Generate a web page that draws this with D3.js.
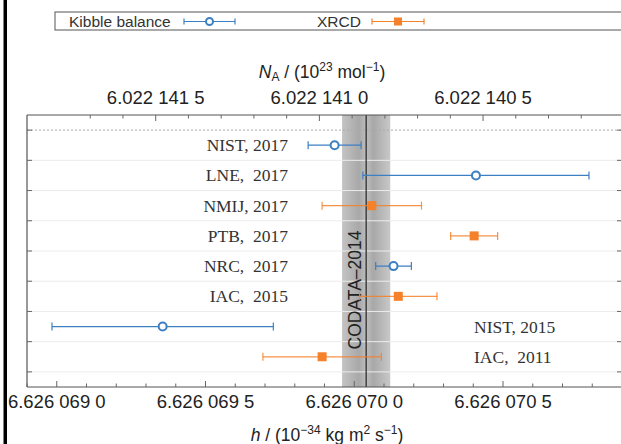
<!DOCTYPE html>
<html><head><meta charset="utf-8">
<script src="https://cdn.jsdelivr.net/npm/d3@7"></script>
<style>
html,body{margin:0;padding:0;background:#fff;}
svg{display:block;}
</style></head>
<body>
<svg id="c" width="621" height="444"></svg>
<script>
// ---- data (h in units of 1e-34 J s) ----
const labels = ["NIST, 2017", "LNE,  2017", "NMIJ, 2017", "PTB,  2017", "NRC,  2017", "IAC,  2015", "NIST, 2015", "IAC,  2011"];
const methods = ["Kibble", "Kibble", "XRCD", "XRCD", "Kibble", "XRCD", "Kibble", "XRCD"];
const hValues = [6.626069934, 6.626070409, 6.626070059, 6.626070403, 6.626070132, 6.626070148, 6.626069356, 6.626069892];
const hUnc    = [0.000000089, 0.000000380, 0.000000167, 0.000000079, 0.000000060, 0.000000130, 0.000000372, 0.000000199];
const codataH = 6.626070040, codataU = 0.000000081;
const molarPlanck = 39.903127110; // N_A*h in (1e23 mol^-1)*(1e-34 J s)
const bottomTicks = [6.6260690, 6.6260695, 6.6260700, 6.6260705];
const topTicks = [6.0221415, 6.0221410, 6.0221405];
const legendNames = ["Kibble balance", "XRCD"];

const blue = "#3d7fc3", orange = "#f5812a";
const svg = d3.select("#c");
const L = 27, R = 622, T = 115, B = 387;
const x = d3.scaleLinear().domain([6.6260689, 6.6260709]).range([L, R]);
const y = d3.scaleLinear().domain([-0.5, 8.5]).range([T, B]);
const fmt = v => { const s = v.toFixed(7); return s.slice(0,5) + " " + s.slice(5,8) + " " + s.slice(8); };

// left black bar
svg.append("rect").attr("x", 3.5).attr("y", 0).attr("width", 3.5).attr("height", 444).attr("fill", "#000");

// CODATA band with gradient
const defs = svg.append("defs");
const g = defs.append("linearGradient").attr("id", "band");
g.append("stop").attr("offset", "0%").attr("stop-color", "#c4c4c4");
g.append("stop").attr("offset", "35%").attr("stop-color", "#a8a8a8");
g.append("stop").attr("offset", "50%").attr("stop-color", "#bdbdbd");
g.append("stop").attr("offset", "65%").attr("stop-color", "#a8a8a8");
g.append("stop").attr("offset", "100%").attr("stop-color", "#c8c8c8");
svg.append("rect").attr("x", x(codataH - codataU)).attr("y", T)
  .attr("width", x(codataH + codataU) - x(codataH - codataU)).attr("height", B - T)
  .attr("fill", "url(#band)");

// row grid lines
const rowTicks = d3.range(0, 9);
svg.append("g").selectAll("line").data(rowTicks).join("line")
  .attr("x1", L).attr("x2", R).attr("y1", d => y(d)).attr("y2", d => y(d))
  .attr("stroke", d => d === 0 ? "#aaa" : "#ececec").attr("stroke-width", 1)
  .attr("stroke-dasharray", d => d === 0 ? "2,2" : null);

// CODATA line
svg.append("line").attr("x1", x(codataH)).attr("x2", x(codataH)).attr("y1", T).attr("y2", B)
  .attr("stroke", "#222").attr("stroke-width", 1.2);
svg.append("text").attr("transform", `translate(${x(codataH) - 11},290) rotate(-90)`)
  .attr("text-anchor", "middle").attr("dominant-baseline", "central")
  .attr("font-family", "Liberation Sans, Arial, sans-serif").attr("font-size", 17.5)
  .attr("fill", "#222").text("CODATA\u20132014");

// frame
const frame = svg.append("g").attr("stroke", "#555").attr("stroke-width", 1.2);
frame.append("line").attr("x1", L).attr("x2", R).attr("y1", T).attr("y2", T);
frame.append("line").attr("x1", L).attr("x2", R).attr("y1", B).attr("y2", B);
frame.append("line").attr("x1", L).attr("x2", L).attr("y1", T).attr("y2", B);
frame.append("line").attr("x1", R).attr("x2", R).attr("y1", T).attr("y2", B);

// y ticks (inward)
const yt = svg.append("g").attr("stroke", "#666").attr("stroke-width", 1);
rowTicks.forEach(d => {
  yt.append("line").attr("x1", L).attr("x2", L + 5).attr("y1", y(d)).attr("y2", y(d));
  yt.append("line").attr("x1", R - 5).attr("x2", R).attr("y1", y(d)).attr("y2", y(d));
});

// bottom axis ticks
const minorB = d3.range(0, 21).map(i => 6.6260689 + i * 1e-7);
const bt = svg.append("g").attr("stroke", "#666").attr("stroke-width", 1);
minorB.forEach(v => {
  const major = bottomTicks.some(t => Math.abs(t - v) < 1e-9);
  bt.append("line").attr("x1", x(v)).attr("x2", x(v)).attr("y1", B).attr("y2", B - (major ? 6 : 3.5));
});
svg.append("g").selectAll("text").data(bottomTicks).join("text")
  .attr("x", d => x(d)).attr("y", 408).attr("text-anchor", "middle")
  .attr("font-family", "Liberation Sans, Arial, sans-serif").attr("font-size", 18.5).attr("fill", "#222")
  .text(d => fmt(d));

// top axis (N_A, inverse)
const xN = n => x(molarPlanck / n);
const minorT = d3.range(0, 16).map(i => 6.0221402 + i * 1e-7);
const tt = svg.append("g").attr("stroke", "#666").attr("stroke-width", 1);
minorT.forEach(n => {
  const px = xN(n);
  if (px < L || px > R) return;
  const major = topTicks.some(t => Math.abs(t - n) < 1e-9);
  tt.append("line").attr("x1", px).attr("x2", px).attr("y1", T).attr("y2", T + (major ? 6 : 3.5));
});
svg.append("g").selectAll("text").data(topTicks).join("text")
  .attr("x", d => xN(d)).attr("y", 104).attr("text-anchor", "middle")
  .attr("font-family", "Liberation Sans, Arial, sans-serif").attr("font-size", 18.5).attr("fill", "#222")
  .text(d => fmt(d));

// axis titles
const tTop = svg.append("text").attr("x", 322).attr("y", 78).attr("text-anchor", "middle")
  .attr("font-family", "Liberation Sans, Arial, sans-serif").attr("font-size", 17.5).attr("fill", "#222");
tTop.append("tspan").attr("font-style", "italic").text("N");
tTop.append("tspan").attr("font-size", 12).attr("dy", 3).text("A");
tTop.append("tspan").attr("dy", -3).text(" / (10");
tTop.append("tspan").attr("font-size", 12).attr("dy", -7).text("23");
tTop.append("tspan").attr("dy", 7).text(" mol");
tTop.append("tspan").attr("font-size", 12).attr("dy", -7).text("\u22121");
tTop.append("tspan").attr("dy", 7).text(")");

const tBot = svg.append("text").attr("x", 327).attr("y", 441).attr("text-anchor", "middle")
  .attr("font-family", "Liberation Sans, Arial, sans-serif").attr("font-size", 17.5).attr("fill", "#222");
tBot.append("tspan").attr("font-style", "italic").text("h");
tBot.append("tspan").text(" / (10");
tBot.append("tspan").attr("font-size", 12).attr("dy", -7).text("\u221234");
tBot.append("tspan").attr("dy", 7).text(" kg m");
tBot.append("tspan").attr("font-size", 12).attr("dy", -7).text("2");
tBot.append("tspan").attr("dy", 7).text(" s");
tBot.append("tspan").attr("font-size", 12).attr("dy", -7).text("\u22121");
tBot.append("tspan").attr("dy", 7).text(")");

// data points
const rows = labels.map((l, i) => ({ label: l, method: methods[i], h: hValues[i], u: hUnc[i], i }));
const pts = svg.append("g").selectAll("g").data(rows).join("g");
pts.each(function(d) {
  const gg = d3.select(this);
  const col = d.method === "Kibble" ? blue : orange;
  const yy = y(d.i + 0.5);
  const x0 = x(d.h - d.u), x1 = x(d.h + d.u);
  gg.append("line").attr("x1", x0).attr("x2", x1).attr("y1", yy).attr("y2", yy)
    .attr("stroke", col).attr("stroke-width", 1.2).attr("opacity", d.method === "Kibble" ? 1 : 0.85);
  [x0, x1].forEach(xx => gg.append("line").attr("x1", xx).attr("x2", xx).attr("y1", yy - 4).attr("y2", yy + 4)
    .attr("stroke", col).attr("stroke-width", 1.2).attr("opacity", d.method === "Kibble" ? 1 : 0.85));
  if (d.method === "Kibble") {
    gg.append("circle").attr("cx", x(d.h)).attr("cy", yy).attr("r", 4).attr("fill", "#fff")
      .attr("stroke", col).attr("stroke-width", 2);
  } else {
    gg.append("rect").attr("x", x(d.h) - 4.5).attr("y", yy - 4.5).attr("width", 9).attr("height", 9).attr("fill", col);
  }
  const leftSide = x0 > 300;
  gg.append("text").attr("x", leftSide ? 288 : 474).attr("y", yy + 6)
    .attr("text-anchor", leftSide ? "end" : "start")
    .attr("font-family", "Liberation Serif, Times New Roman, serif").attr("font-size", 17.5)
    .attr("fill", "#333").style("white-space", "pre").text(d.label);
});

// legend
svg.append("rect").attr("x", 55).attr("y", 12).attr("width", 580).attr("height", 18)
  .attr("fill", "#fff").attr("stroke", "#555").attr("stroke-width", 1);
const legX = [69, 317];
const legSym = [[184, 235], [372, 424]];
legendNames.forEach((name, i) => {
  const col = i === 0 ? blue : orange;
  svg.append("text").attr("x", legX[i]).attr("y", 26.5)
    .attr("font-family", "Liberation Sans, Arial, sans-serif").attr("font-size", 15.5).attr("fill", "#333").text(name);
  const [a, b] = legSym[i], yy = 21.5, m = (a + b) / 2;
  svg.append("line").attr("x1", a).attr("x2", b).attr("y1", yy).attr("y2", yy).attr("stroke", col).attr("stroke-width", 1.2);
  [a, b].forEach(xx => svg.append("line").attr("x1", xx).attr("x2", xx).attr("y1", yy - 3).attr("y2", yy + 3).attr("stroke", col).attr("stroke-width", 1.2));
  if (i === 0) svg.append("circle").attr("cx", m).attr("cy", yy).attr("r", 3.5).attr("fill", "#fff").attr("stroke", col).attr("stroke-width", 2);
  else svg.append("rect").attr("x", m - 4).attr("y", yy - 4).attr("width", 8).attr("height", 8).attr("fill", col);
});
</script>
</body></html>
